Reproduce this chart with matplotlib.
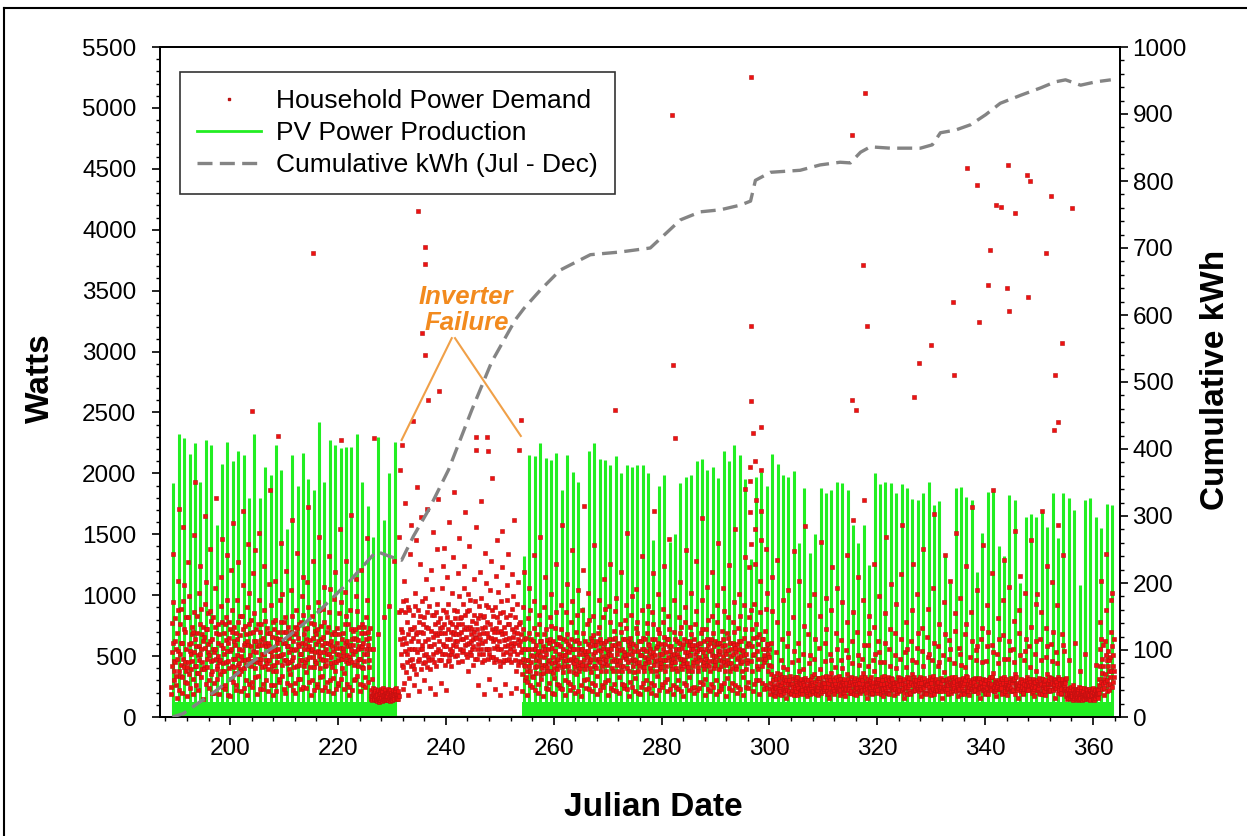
import matplotlib
matplotlib.use("Agg")
import matplotlib.pyplot as plt
from matplotlib.lines import Line2D
from matplotlib.ticker import MultipleLocator
import numpy as np

# daily PV peak (W), before and after the inverter failure
pv_days_summer = np.arange(189, 231)
pv_peak_summer = [1920, 2320, 2290, 2160, 2250, 1930, 2270, 2230, 1580, 2080,
                  2260, 2100, 2180, 2150, 1800, 2320, 1800, 2050, 1990, 2230,
                  2030, 1540, 2150, 1900, 2170, 1950, 1860, 2420, 1930, 2270,
                  2230, 2210, 2220, 2220, 2320, 1930, 1730, 1480, 2300, 1620,
                  2000, 2260]
pv_days_fall = np.arange(254, 364)
pv_peak_fall = [1320, 2150, 2140, 2250, 2130, 2110, 2170, 1860, 2150, 2010,
                1930, 900, 2180, 2250, 2120, 2110, 2070, 2140, 2000, 2070,
                2050, 2070, 2070, 2000, 1450, 1900, 1990, 1440, 1500, 1920,
                1970, 1990, 2100, 2120, 2030, 2050, 1960, 2180, 2100, 2230,
                2150, 1950, 1300, 1970, 2010, 1900, 2160, 2080, 1990, 1970,
                2020, 1430, 1880, 1350, 1500, 1880, 1840, 1860, 1930, 1920,
                1860, 1580, 1430, 1580, 1250, 2000, 1910, 1930, 1920, 1840,
                1910, 1880, 1790, 1780, 1840, 1930, 1740, 1770, 1340, 1100,
                1880, 1890, 1810, 1780, 1190, 1510, 1850, 1860, 1400, 1320,
                1820, 1780, 1100, 1640, 1670, 1640, 1700, 1560, 1840, 1470,
                1840, 1800, 1700, 1080, 1780, 1800, 1640, 1550, 1750, 1740]
PV_BASE = 120  # low morning / evening output, reads as a solid band

# household demand (W), sixteen readings per day
demand_summer = """
189 190 250 530 420 770 1340 610 940 460 300 380 620 450 810 560 340
190 260 160 480 690 1120 540 880 1710 380 220 520 340 760 430 610 890
191 200 330 610 950 480 1560 720 410 1080 290 450 700 380 560 820 410
192 170 280 450 820 1270 600 350 990 540 240 610 390 520 740 460 680
193 310 190 700 530 1490 860 420 1930 640 260 420 580 830 360 690 510
194 220 360 580 1020 470 760 1240 520 890 330 560 450 680 390 740 620
195 150 410 660 390 930 1650 570 720 1110 270 480 720 410 600 530 850
196 240 300 510 870 620 1380 460 790 350 200 640 380 560 470 820 530
197 280 200 740 560 1060 480 1800 690 420 310 390 610 500 760 450 680
198 190 350 470 910 590 1150 780 380 1460 250 570 440 690 520 380 760
199 230 260 630 450 820 1330 540 960 610 180 460 780 400 650 540 720
200 170 310 560 1210 700 420 880 1590 480 290 620 410 740 480 590 360
201 260 220 690 510 960 640 1270 430 780 350 440 560 830 390 670 500
202 210 380 470 830 550 1080 720 1690 400 240 590 470 610 750 430 680
203 300 180 620 900 480 1420 590 760 1020 270 510 690 420 580 800 460
204 250 290 540 700 1180 460 850 620 1370 330 400 620 530 720 450 580
205 190 340 480 760 590 960 1510 700 440 230 630 480 760 410 590 520
206 270 230 650 520 880 1240 610 420 790 300 470 580 690 440 730 610
207 210 390 580 1090 470 690 1860 540 920 260 540 420 660 500 780 380
208 180 260 720 430 800 550 1120 650 380 210 610 500 450 700 560 640
209 290 310 500 960 640 1430 510 780 1010 340 430 700 520 610 470 780
210 230 200 610 820 470 700 1200 440 580 280 580 450 740 390 650 530
211 260 350 450 700 1040 560 830 1620 470 220 490 620 410 680 550 740
212 200 280 690 560 880 420 1350 730 600 310 650 430 580 760 470 520
213 310 230 520 780 610 990 470 1150 840 250 420 560 680 450 720 600
214 240 370 640 480 1110 730 560 900 1720 290 580 490 410 630 540 770
215 180 300 560 830 490 1280 650 410 760 220 460 710 530 600 440 680
216 270 250 720 540 940 620 1480 500 880 330 530 400 640 750 480 590
217 220 340 470 890 660 1070 530 780 420 250 610 470 560 430 700 520
218 290 210 610 740 520 1320 860 600 1050 300 440 620 490 680 580 410
219 200 320 540 970 700 450 1190 680 380 230 570 450 730 520 610 470
220 260 280 680 510 850 1540 570 940 480 310 480 640 400 570 690 530
221 230 360 500 760 1030 610 830 460 1280 270 620 510 580 440 760 490
222 180 250 590 880 470 720 1660 550 640 220 450 590 710 520 430 650
223 300 310 720 540 990 640 1130 460 870 340 560 420 630 480 740 580
224 210 270 480 690 570 1210 760 410 580 260 400 610 520 740 460 690
225 250 330 560 820 640 960 520 1470 700 290 590 470 650 410 560 730
226 180 150 220 140 310 170 560 190 240 160 200 150 230 170 210 140
227 140 170 200 130 180 220 150 680 190 120 160 210 140 190 170 230
228 160 130 190 210 150 170 240 140 820 180 190 150 220 140 200 170
229 150 190 170 230 140 200 160 910 210 130 170 220 150 200 180 140
230 170 140 220 160 190 150 1280 180 230 200 210 160 190 240 150 180
"""

demand_failure = """
231 160 190 150 210 170 860 1480 640 2030 720 520 880 430 700 600 950
232 230 410 650 280 1120 540 860 1760 370 960 610 450 780 520 900 680
233 180 560 320 880 470 1340 720 420 1580 620 480 720 560 840 430 650
234 260 740 390 1020 560 910 1450 350 680 1890 700 530 880 460 620 780
235 210 480 830 560 1260 700 390 1640 950 590 560 760 440 690 820 510
236 300 620 450 980 740 1130 520 1710 860 410 640 490 730 580 910 470
237 240 390 710 1210 580 840 480 1050 660 1520 520 840 600 450 760 690
238 190 530 860 420 1380 670 930 560 1790 780 690 470 620 810 540 730
239 280 690 470 1060 740 520 1240 880 600 1390 580 760 430 690 520 860
240 220 580 820 640 1150 460 930 720 1600 510 470 640 780 560 700 520
241 420 760 540 1020 680 1310 590 880 1850 700 620 810 500 740 580 680
242 510 870 620 1180 760 450 990 680 1470 810 560 700 820 640 530 760
243 460 640 930 550 1240 720 1060 590 840 1680 740 520 660 870 600 490
244 380 720 1010 610 880 1400 530 960 740 620 510 680 790 560 720 640
245 430 580 840 700 1130 480 950 660 1560 770 650 560 720 480 810 600
246 260 680 520 910 1190 640 840 1770 560 980 730 450 610 820 520 690
247 190 470 830 620 1350 740 920 560 1100 690 560 780 480 660 900 520
248 310 560 760 1040 490 1280 650 880 1960 720 620 490 830 570 700 450
249 230 640 900 480 1160 730 1450 580 820 1030 700 560 460 780 620 850
250 180 420 710 950 560 1230 680 1530 450 860 520 740 630 470 690 580
251 270 530 820 640 1080 470 960 760 1340 590 650 480 760 560 840 520
252 200 610 450 890 720 1170 580 990 660 1620 540 700 470 820 610 740
253 240 380 690 520 930 640 1110 430 760 590 460 620 780 530 680 450
"""

demand_fall = """
254 210 350 560 720 480 900 640 1190 430 300 420 560 330 650 470 380
255 180 290 470 810 560 1060 690 420 880 260 380 510 640 450 560 340
256 250 330 620 500 950 730 1330 560 410 220 470 360 590 420 680 510
257 200 270 540 760 460 840 620 1480 500 310 350 620 430 540 400 580
258 170 360 490 680 900 560 1150 430 720 240 520 410 630 380 560 450
259 230 280 610 470 820 640 1010 750 380 200 440 570 360 620 490 400
260 190 320 450 730 540 1260 600 860 470 270 390 480 600 430 520 660
261 260 240 580 650 490 920 720 1580 410 230 510 370 560 460 640 420
262 180 300 510 860 620 470 1090 680 540 290 420 600 380 530 470 580
263 220 270 640 480 780 560 950 1370 450 250 560 440 490 370 620 410
264 200 350 470 700 560 840 630 430 1040 210 380 520 610 450 400 560
265 170 260 560 430 880 1210 690 520 1730 300 470 390 540 620 430 510
266 240 310 490 760 600 1020 540 800 450 230 400 580 460 370 650 480
267 210 280 620 520 830 670 1410 590 420 260 530 420 590 480 400 620
268 190 340 460 690 550 960 740 480 640 220 450 610 380 540 500 420
269 260 250 570 820 480 1130 610 890 440 290 380 470 620 430 560 500
270 180 300 530 640 910 520 780 1260 560 240 510 400 460 590 380 640
271 220 270 480 710 590 870 650 460 980 210 430 560 520 380 610 470
272 200 330 600 460 760 550 1190 700 420 270 560 380 490 640 420 530
273 240 260 510 800 640 920 480 730 1510 230 400 620 450 520 380 590
274 170 290 560 650 470 840 610 990 520 250 480 420 600 370 540 460
275 210 320 470 730 580 1050 690 440 780 200 540 380 450 620 420 510
276 190 250 620 510 880 560 1320 650 410 280 410 560 380 490 640 440
277 230 300 540 690 470 770 600 910 480 240 590 450 520 400 560 380
278 200 280 490 860 640 1180 530 760 1690 260 430 510 640 460 380 570
279 180 340 580 470 720 610 1010 690 430 220 520 390 480 600 440 410
280 250 270 520 780 560 890 660 1240 470 290 380 600 420 530 470 640
281 210 310 640 490 830 580 1460 720 540 230 470 430 580 390 510 450
282 190 260 480 700 520 960 640 450 2290 250 560 400 520 620 380 490
283 230 300 560 820 610 1110 690 480 740 210 420 570 390 480 600 440
284 170 280 470 640 900 530 780 1370 420 260 500 440 620 410 530 380
285 220 330 590 510 740 620 1020 560 680 240 380 590 450 560 420 640
286 200 250 520 760 480 870 590 1280 450 220 540 410 600 380 490 560
287 240 290 610 470 690 560 960 720 1630 270 430 530 390 620 450 500
288 180 310 480 720 560 1070 640 430 800 230 590 460 420 540 380 610
289 210 270 550 640 830 510 1190 690 460 250 400 580 500 430 620 460
290 190 300 500 780 600 920 540 1430 610 210 520 390 610 470 540 420
291 230 260 580 460 710 640 1060 500 870 280 450 540 380 590 430 520
292 170 320 470 690 550 820 650 1250 440 240 380 610 440 500 560 400
293 220 280 610 520 780 590 940 700 1540 260 570 420 530 390 480 600
294 200 250 490 730 560 1010 620 450 830 230 440 500 620 460 380 550
295 180 330 540 650 920 510 1310 720 1870 250 520 390 470 580 440 610
296 240 290 600 820 1230 1680 1940 2050 1420 880 460 580 720 380 650 510
297 210 270 520 930 1540 1260 2100 1780 760 300 540 420 660 480 600 390
298 190 300 680 1120 860 1690 1450 2030 640 280 420 560 480 640 510 450
299 230 260 480 710 560 890 1380 600 1020 240 380 520 600 430 490 560
300 190 230 280 420 610 350 870 250 1150 210 220 300 180 260 340 240
301 170 250 310 530 240 780 360 1290 200 220 280 190 320 230 260 350
302 210 180 260 470 330 640 290 960 410 230 240 310 200 280 220 330
303 160 240 300 580 220 390 1040 270 690 200 300 210 260 340 190 270
304 200 220 270 450 310 820 250 540 1360 180 250 330 230 290 210 310
305 180 260 330 610 240 470 290 1120 380 210 200 280 310 220 270 240
306 220 190 280 390 520 260 750 310 1570 230 320 240 210 300 260 190
307 170 240 300 680 230 440 920 270 510 190 260 310 230 280 340 210
308 200 210 260 480 350 1010 290 640 240 220 230 190 300 250 220 320
309 180 250 320 570 270 390 830 230 1440 200 290 260 210 330 240 280
310 210 230 280 460 610 250 720 340 980 190 210 300 250 190 280 330
311 160 200 300 520 240 880 360 470 1230 210 270 230 320 260 210 300
312 190 260 270 410 330 690 250 1060 560 230 300 210 250 340 230 270
313 220 180 310 630 260 470 940 290 400 200 240 280 200 310 260 220
314 170 240 280 550 230 780 350 1330 490 220 310 250 230 270 200 290
315 200 210 330 440 290 620 260 860 1620 190 220 300 270 230 320 250
316 180 250 270 700 240 510 1150 300 430 210 280 200 310 250 240 330
317 210 220 300 480 360 960 270 590 1780 230 250 330 220 290 270 200
318 160 240 260 590 310 420 830 250 690 200 300 240 280 210 330 260
319 190 200 290 470 250 740 380 1260 520 220 230 310 250 290 200 280
320 220 260 310 620 280 530 990 260 450 190 270 220 330 240 300 210
321 170 230 270 450 340 850 240 610 1480 210 310 260 200 280 250 330
322 200 190 300 560 260 420 720 320 1090 230 240 290 310 220 270 250
323 180 250 280 690 230 510 930 290 400 200 280 210 260 330 230 300
324 210 220 320 480 300 1170 270 640 1580 220 220 300 240 270 310 200
325 160 240 260 530 250 410 780 330 560 190 300 250 290 210 260 320
326 190 200 290 620 280 880 350 470 1260 210 260 330 220 300 240 280
327 220 260 300 450 240 570 1010 260 690 230 210 280 310 250 330 230
328 170 230 280 540 310 730 250 420 1380 200 320 240 270 200 290 260
329 200 190 270 660 260 490 890 300 520 220 250 300 220 330 210 280
330 180 250 310 470 230 1060 340 610 1670 190 290 220 300 260 240 310
331 210 220 280 580 290 420 760 250 450 210 230 320 250 280 300 210
332 160 240 300 510 250 940 370 680 1330 230 300 260 210 310 230 270
333 190 200 260 630 320 480 1120 280 560 200 260 210 330 240 280 300
334 220 260 290 440 240 710 330 850 1510 220 210 290 260 300 220 250
335 170 230 310 570 270 520 980 260 430 190 300 240 280 210 320 260
336 200 190 280 680 300 410 760 340 1240 210 250 330 230 270 210 300
337 180 250 270 490 230 860 290 620 1720 230 280 210 310 250 290 230
338 210 220 320 550 260 470 1040 310 580 200 230 300 250 320 240 270
339 160 240 280 640 290 730 250 450 1410 220 310 260 220 280 300 210
340 190 200 300 460 240 580 920 270 700 190 260 310 280 230 250 330
341 220 260 270 590 330 1180 360 530 1860 210 220 250 300 270 210 290
342 170 230 290 520 250 440 810 280 640 230 300 280 230 320 260 240
343 200 190 310 670 280 960 330 480 1290 200 250 210 290 260 310 230
344 180 250 260 480 240 620 1070 260 550 220 290 320 240 210 280 300
345 210 220 300 560 310 450 790 350 1530 190 240 270 330 250 220 260
346 160 240 280 690 260 880 290 510 1160 210 310 230 260 290 250 210
347 190 200 270 470 230 540 1020 300 640 230 260 300 220 330 280 240
348 220 260 310 580 290 410 740 260 1450 200 230 250 310 270 210 290
349 170 230 290 520 250 930 380 620 1010 220 300 220 270 240 320 260
350 200 190 280 640 270 470 860 310 1690 190 250 310 230 290 260 210
351 180 250 300 490 240 730 350 580 1240 210 280 240 300 220 330 270
352 210 220 270 600 320 1110 280 460 700 230 220 290 260 310 240 300
353 160 240 290 530 260 440 920 330 1580 200 310 250 220 280 270 230
354 190 200 310 680 280 590 1330 270 540 220 260 300 280 230 210 320
355 170 150 210 190 240 160 230 180 470 200 180 220 160 200 250 170
356 150 190 170 220 140 260 180 200 160 610 210 170 230 150 190 220
357 180 160 230 140 200 170 250 150 190 380 160 240 190 210 170 200
358 140 200 160 210 180 150 240 170 520 190 230 180 150 220 200 160
359 160 170 190 150 230 180 210 140 200 170 190 210 230 170 150 240
360 150 180 140 200 170 220 160 190 430 180 170 230 200 160 220 190
361 200 260 310 560 780 420 1120 290 640 230 360 480 270 590 420 310
362 180 240 290 620 350 880 510 1340 470 210 300 420 540 260 380 470
363 220 270 330 490 700 380 960 580 1020 250 420 290 510 380 640 330
"""

# isolated demand spikes above the PV envelope (day, W)
spike_day = [204.1, 208.8, 215.4, 220.6, 226.6,
             234.9, 236.1, 236.1, 235.5, 236.2, 238.8, 236.7, 234.0, 253.9,
             231.8, 245.5, 247.6, 245.6, 247.9, 253.5,
             271.4, 282.0, 282.2, 296.6, 296.5, 296.6, 297.0, 298.5,
             315.4, 317.8, 317.4, 318.0, 315.4, 316.0, 326.8, 327.7, 329.9,
             334.0, 334.2, 336.6, 338.4, 338.9, 340.5, 340.9, 342.0, 343.0,
             344.0, 344.3, 344.4, 345.6, 347.8, 347.9, 348.4, 351.2, 352.2,
             353.0, 354.3, 356.1, 353.5, 352.7]
spike_watts = [2510, 2310, 3810, 2270, 2290,
               4150, 3860, 3720, 3150, 2970, 2680, 2600, 2430, 2440,
               2230, 2300, 2300, 2190, 2180, 2190,
               2520, 4940, 2890, 5250, 3210, 2590, 2330, 2380,
               4780, 5120, 3710, 3210, 2600, 2520, 2630, 2910, 3050,
               3410, 2810, 4510, 4370, 3240, 3550, 3830, 4200, 4190,
               3520, 4530, 3330, 4140, 4450, 3450, 4400, 3810, 4280,
               2810, 3070, 4180, 2420, 2360]

# cumulative grid energy (kWh)
cum_day = [189.3, 191.3, 197.5, 203.7, 209.9, 216.1, 222.3, 226.3, 227.2,
           229.5, 231.8, 234.0, 236.8, 240.5, 244.8, 248.5, 252.9, 254.5,
           257.5, 261.2, 266.8, 272.3, 277.9, 283.5, 287.2, 290.9, 294.6,
           296.5, 297.4, 300.2, 305.7, 309.4, 313.1, 315.0, 316.9, 318.7,
           322.4, 328.0, 330.2, 331.7, 334.5, 337.3, 340.1, 342.8, 346.6,
           350.3, 353.0, 354.9, 357.7, 360.5, 363.3]
cum_kwh = [0, 5, 40, 80, 115, 155, 204, 240, 247,
           240, 234, 270, 309, 369, 458, 530, 593, 610,
           637, 667, 690, 694, 700, 742, 754, 757, 764,
           770, 801, 813, 816, 824, 828, 827, 843, 851,
           849, 849, 854, 872, 876, 884, 899, 916, 928,
           939, 948, 951, 943, 948, 951]

GREEN = "#22ee22"
RED = "#ee1111"
RED_EDGE = "#b81010"
GRAY = "#848484"
ORANGE = "#f28a1e"

plt.rcParams["font.family"] = ["Liberation Sans", "DejaVu Sans"]


def parse_days(txt):
    xs, ys = [], []
    for line in txt.strip().splitlines():
        vals = [int(v) for v in line.split()]
        day, readings = vals[0], vals[1:]
        for i, w in enumerate(readings):
            xs.append(day + (i + 0.5) / len(readings))
            ys.append(w)
    return xs, ys


W, H = 1247, 836
fig = plt.figure(figsize=(W / 100, H / 100), dpi=100)
ax = fig.add_axes([160 / W, 1 - 717 / H, 960 / W, 670 / H])
ax2 = ax.twinx()

# PV production
for days, peaks in [(pv_days_summer, pv_peak_summer), (pv_days_fall, pv_peak_fall)]:
    ax.vlines(days + 0.5, 0, peaks, color=GREEN, lw=2.2, zorder=1)
    ax.fill_between([days[0] + 0.2, days[-1] + 0.9], 0, PV_BASE, color=GREEN, lw=0, zorder=1)
ax.plot([231, 254], [0, 0], color=GREEN, lw=2.5, zorder=1)

# household demand
dot = dict(ls="none", marker="s", ms=2.3, mfc=RED, mec=RED_EDGE, mew=0.4, zorder=2)
for block in [demand_summer, demand_failure, demand_fall]:
    dx, dy = parse_days(block)
    ax.plot(dx, dy, **dot)
ax.plot(spike_day, spike_watts, **dot)

# cumulative kWh
ax2.plot(cum_day, cum_kwh, color=GRAY, lw=2.4, dashes=(4.5, 2.2), zorder=3)

ax.set_xlim(187, 365)
ax.set_ylim(0, 5500)
ax2.set_ylim(0, 1000)
ax.set_xticks(range(200, 361, 20))
ax.xaxis.set_minor_locator(MultipleLocator(4))
ax.set_yticks(range(0, 5501, 500))
ax.yaxis.set_minor_locator(MultipleLocator(100))
ax2.set_yticks(range(0, 1001, 100))
ax2.yaxis.set_minor_locator(MultipleLocator(20))

for a in (ax, ax2):
    a.tick_params(which="major", direction="out", length=6, width=1.2, labelsize=17.5)
    a.tick_params(which="minor", direction="out", length=3, width=1.0)
    for s in a.spines.values():
        s.set_linewidth(1.3)
ax.tick_params(axis="y", pad=11)
ax.tick_params(axis="x", pad=9)
ax2.tick_params(axis="y", pad=3)

fig.text(40 / W, 1 - 378 / H, "Watts", rotation=90, ha="center", va="center",
         fontsize=24, fontweight="bold")
fig.text(1215 / W, 1 - 380 / H, "Cumulative kWh", rotation=90, ha="center", va="center",
         fontsize=24, fontweight="bold")
fig.text(653 / W, 1 - 808 / H, "Julian Date", ha="center", va="center",
         fontsize=24, fontweight="bold")

# inverter failure note
ax.text(243.8, 3340, "Inverter\nFailure", color=ORANGE, fontsize=18.5, fontweight="bold",
        fontstyle="italic", ha="center", va="center", linespacing=1.1, zorder=4)
ax.plot([241.1, 231.8], [3110, 2274], color="#f0a048", lw=1.5, zorder=4)
ax.plot([241.7, 253.9], [3110, 2307], color="#f0a048", lw=1.5, zorder=4)

handles = [
    Line2D([], [], ls="none", marker="s", ms=2.0, mfc=RED, mec=RED_EDGE),
    Line2D([], [], color=GREEN, lw=2.0),
    Line2D([], [], color=GRAY, lw=2.4, dashes=(4.5, 2.2)),
]
labels = ["Household Power Demand", "PV Power Production", "Cumulative kWh (Jul - Dec)"]
leg = ax2.legend(handles, labels, loc="upper left", bbox_to_anchor=(0.021, 0.963),
                 fontsize=19, frameon=True, fancybox=False, borderaxespad=0,
                 handlelength=2.4, handletextpad=0.6, labelspacing=0.3,
                 borderpad=0.65)
leg.get_frame().set_edgecolor("black")
leg.get_frame().set_linewidth(1.2)

# slide frame
fig.add_artist(Line2D([4 / W, 4 / W], [0, 1 - 8 / H], color="black", lw=1.5))
fig.add_artist(Line2D([4 / W, 1], [1 - 8 / H, 1 - 8 / H], color="black", lw=1.5))

fig.savefig("out.png", dpi=100)
